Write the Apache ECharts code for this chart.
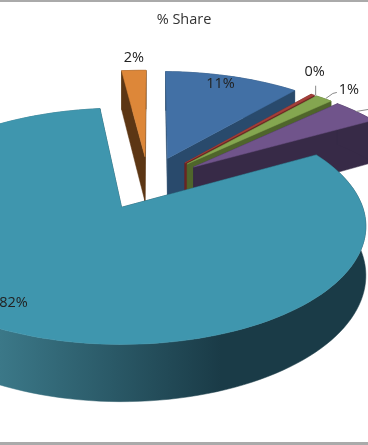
<!DOCTYPE html>
<html>
<head>
<meta charset="utf-8">
<style>html,body{margin:0;padding:0;background:#fff}#c{width:368px;height:445px}</style>
<script src="https://cdn.jsdelivr.net/npm/echarts@6/dist/echarts.min.js"></script>
</head>
<body>
<div id="c"></div>
<script>
// ---- data (clockwise, starting with the slice at the first-slice angle) ----
const categories = ['F', 'A', 'B', 'C', 'D', 'E'];
const shareValues = [2, 11, 0.3, 1.4, 3.8, 81.5];
const shareLabels = ['2%', '11%', '0%', '1%', '', '82%'];
const chartTitle = '% Share';

// ---- styles ----
const topColors = ['#dd8739', '#4270a5', '#a5403a', '#84a650', '#70548b', '#3f96ae'];
const wallColors = ['#5c3614', '#294a6c', '#6b2522', '#4f652b', '#372a47', '#1a3b47'];
const textColor = '#222222';

// ---- projection of the tilted pie ----
const firstAngle = 354, explode = 0.25;
const pieCenter = [0.113, -0.22];
const originX = 122, originY = 207, scaleX = 241, scaleY = 115, persp = 0.161, depth = 48;
const labelOffsets = [[0, -13], [-12, 7.5], [2, -23], [25, -9], [0, 0], [21, -24]];
const leaderOffsets = [null, null, [[3, 1], [3, -9]], [[2, 0], [9, -5], [13, -6]], [[0, 0], [12, -2]], null];

function dir(a) { const r = a * Math.PI / 180; return [Math.sin(r), -Math.cos(r)]; }
function proj(p, z) {
  const w = 1 - persp * p[1];
  return [originX + scaleX * p[0] / w, originY + (scaleY * p[1] + (z ? depth : 0)) / w];
}
const total = shareValues.reduce((a, b) => a + b, 0);

function renderSlice(params, api) {
  const i = params.dataIndex;
  const before = shareValues.slice(0, i).reduce((a, b) => a + b, 0);
  const a0 = firstAngle + before / total * 360;
  const a1 = a0 + api.value(0) / total * 360;
  const mid = (a0 + a1) / 2, md = dir(mid);
  const apex = [pieCenter[0] + explode * md[0], pieCenter[1] + explode * md[1]];
  const rim = [];
  const steps = Math.max(2, Math.ceil((a1 - a0) / 2));
  for (let s = 0; s <= steps; s++) {
    const d = dir(a0 + (a1 - a0) * s / steps);
    rim.push([apex[0] + d[0], apex[1] + d[1]]);
  }
  const top = [proj(apex, false)].concat(rim.map(p => proj(p, false)));
  const arcWall = rim.map(p => proj(p, false)).concat(rim.slice().reverse().map(p => proj(p, true)));
  const wall0 = [apex, rim[0], rim[0], apex].map((p, k) => proj(p, k > 1));
  const wall1 = [apex, rim[steps], rim[steps], apex].map((p, k) => proj(p, k > 1));
  const isBig = a1 - a0 > 180;
  const wallFill = isBig ? {
    type: 'linear', x: 0, y: 0, x2: 368, y2: 0, global: true,
    colorStops: [{ offset: 0, color: '#3b7888' }, { offset: 0.6, color: '#1a3b47' }, { offset: 1, color: '#1a3b47' }]
  } : wallColors[i];
  const poly = (pts, fill, z2) => ({ type: 'polygon', z2, shape: { points: pts }, style: { fill, stroke: fill, lineWidth: 0.5 } });
  const kids = [
    poly(wall0, wallColors[i], 1),
    poly(wall1, wallColors[i], 1),
    poly(arcWall, wallFill, 1),
    poly(top, topColors[i], 2)
  ];
  const rimMid = proj([apex[0] + md[0], apex[1] + md[1]], false);
  if (leaderOffsets[i]) {
    kids.push({
      type: 'polyline', z2: 3,
      shape: { points: leaderOffsets[i].map(o => [rimMid[0] + o[0], rimMid[1] + o[1]]) },
      style: { stroke: '#8a8a8a', lineWidth: 1, fill: 'none' }
    });
  }
  if (shareLabels[i]) {
    kids.push({
      type: 'text', z2: 4,
      x: rimMid[0] + labelOffsets[i][0], y: rimMid[1] + labelOffsets[i][1],
      style: {
        text: shareLabels[i], fill: textColor, align: 'center', verticalAlign: 'middle',
        font: '14.5px "Open Sans"'
      }
    });
  }
  return { type: 'group', children: kids };
}

const chart = echarts.init(document.getElementById('c'), null, { renderer: 'canvas' });
chart.setOption({
  animation: false,
  backgroundColor: '#ffffff',
  title: {
    text: chartTitle, left: 179, top: 7, textAlign: 'center',
    textStyle: { fontFamily: 'Open Sans', fontSize: 14.5, fontWeight: 'normal', color: '#333333' }
  },
  graphic: [
    { type: 'rect', shape: { x: 0, y: 0, width: 368, height: 2 }, style: { fill: '#aaaaaa' } },
    { type: 'rect', shape: { x: 0, y: 442, width: 368, height: 3 }, style: { fill: '#aaaaaa' } }
  ],
  series: [{
    type: 'custom',
    coordinateSystem: 'none',
    clip: false,
    renderItem: renderSlice,
    data: shareValues.map((v, i) => ({ name: categories[i], value: [v] }))
  }]
});
</script>
</body>
</html>
